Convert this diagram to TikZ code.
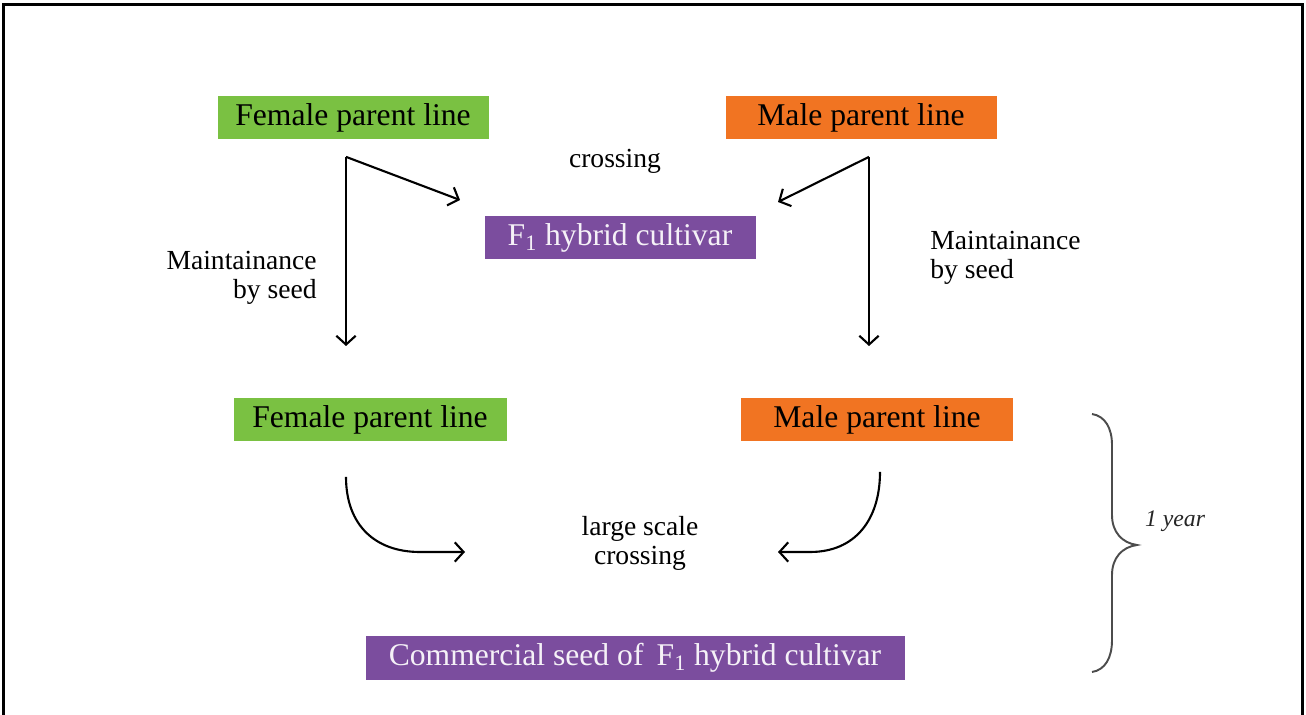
\documentclass[tikz,border=0pt]{standalone}
\usepackage{fontspec}
\setmainfont{Liberation Serif}
\usetikzlibrary{arrows.meta}

\definecolor{femgreen}{HTML}{7AC142}
\definecolor{maleorange}{HTML}{F17422}
\definecolor{hybpurple}{HTML}{7B4D9E}

\begin{document}
\begin{tikzpicture}[
  % Node styles
  femalebox/.style={rectangle, fill=femgreen, minimum width=5.42cm,
    minimum height=0.86cm, inner sep=0pt, text=black,
    font=\fontsize{18}{20}\selectfont},
  malebox/.style={rectangle, fill=maleorange, minimum width=5.42cm,
    minimum height=0.86cm, inner sep=0pt, text=black,
    font=\fontsize{18}{20}\selectfont},
  hybridbox/.style={rectangle, fill=hybpurple, minimum width=5.42cm,
    minimum height=0.86cm, inner sep=0pt, text=white!92!hybpurple,
    font=\fontsize{18}{20}\selectfont},
  steplabel/.style={font=\fontsize{15.7}{16.6}\selectfont, text=black,
    inner sep=0pt},
  arr/.style={-{Straight Barb[length=5pt,width=11pt]}, line width=1.2pt},
]

% === Frame ===
\clip (0,0) rectangle (26.12,-14.30);
\draw[line width=1.7pt] (0.07,-15) -- (0.07,-0.10) -- (26.04,-0.10) -- (26.04,-15);

% === Column positions ===
\def\colA{7.06}
\def\colB{12.40}
\def\colC{17.22}

% === First year: parent lines and F1 ===
\node[femalebox] (femA) at (\colA, -2.36) {Female parent line};
\node[malebox] (maleA) at (\colC, -2.36) {Male parent line};
\node[hybridbox] (hybA) at (\colB, -4.76) {F\textsubscript{1} hybrid cultivar};
\node[steplabel] (crossA) at (12.30, -3.22) {crossing};

% === Second year: parent lines and commercial seed ===
\node[femalebox, minimum width=5.46cm] (femB) at (7.40, -8.40) {Female parent line};
\node[malebox, minimum width=5.44cm] (maleB) at (17.54, -8.40) {Male parent line};
\node[hybridbox, minimum width=10.78cm, minimum height=0.88cm] (seed) at (12.70, -13.16)
  {Commercial seed of \,F\textsubscript{1} hybrid cultivar};
\node[steplabel, align=center] (crossB) at (12.80, -10.86) {large scale\\crossing};

% === Maintenance labels ===
\node[steplabel, align=right, anchor=east] (maintL) at (6.34, -5.56) {Maintainance\\by seed};
\node[steplabel, align=left, anchor=west] (maintR) at (18.60, -5.16) {Maintainance\\by seed};

% === Arrow end points ===
\coordinate (fsplit) at ([shift={(-0.14,-0.34)}]femA.south);
\coordinate (msplit) at ([shift={(0.16,-0.34)}]maleA.south);
\coordinate (fcrossend) at (9.20, -4.00);
\coordinate (mcrossend) at (15.56, -4.04);
\coordinate (fdownend) at (fsplit |- 0,-6.92);
\coordinate (mdownend) at (msplit |- 0,-6.92);
\coordinate (fcurve) at ([shift={(-0.48,-0.70)}]femB.south);
\coordinate (mcurve) at ([shift={(0.06,-0.60)}]maleB.south);
\coordinate (fcurveend) at (9.30, -11.04);
\coordinate (mcurveend) at (15.56, -11.04);

% === Arrows: crossing and maintenance ===
\draw[arr] (fsplit) -- (fcrossend);
\draw[arr] (fsplit) -- (fdownend);
\draw[arr] (msplit) -- (mcrossend);
\draw[arr] (msplit) -- (mdownend);

% === Arrows: large scale crossing ===
\draw[arr] (fcurve) .. controls (6.92,-10.50) and (7.50,-11.04) .. (8.40,-11.04) -- (fcurveend);
\draw[arr] (mcurve) .. controls (17.60,-10.40) and (17.10,-11.04) .. (16.20,-11.04) -- (mcurveend);

% === Brace: one year ===
\draw[line width=1.1pt, black!70] (21.84,-8.28) .. controls (22.10,-8.32) and (22.24,-8.56) .. (22.24,-8.90)
  -- (22.24,-10.30) .. controls (22.24,-10.64) and (22.44,-10.86) .. (22.74,-10.90)
  .. controls (22.44,-10.94) and (22.24,-11.16) .. (22.24,-11.50)
  -- (22.24,-12.80) .. controls (22.24,-13.16) and (22.10,-13.40) .. (21.84,-13.44);
\node[font=\fontsize{13.5}{15}\selectfont\itshape, text=black!85] (year) at (23.50, -10.42) {1 year};

\end{tikzpicture}
\end{document}
